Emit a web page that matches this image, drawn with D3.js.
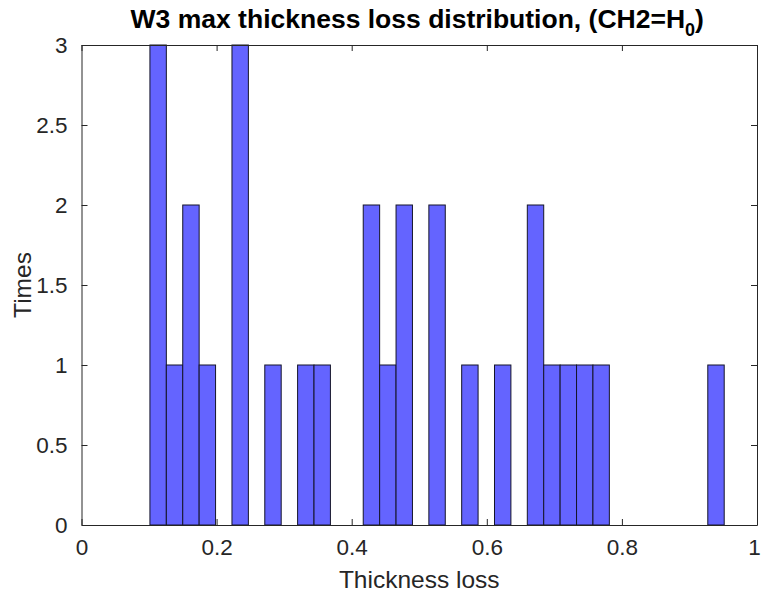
<!DOCTYPE html>
<html>
<head>
<meta charset="utf-8">
<script src="https://cdn.jsdelivr.net/npm/d3@7"></script>
<style>
  html, body { margin: 0; padding: 0; background: #ffffff; }
  svg { display: block; }
  text { font-family: "Liberation Sans", Arial, sans-serif; }
</style>
</head>
<body>
<svg id="chart" width="761" height="602"></svg>
<script>
// ---- data ----
const binStart = 0.1013;
const binWidth = 0.02429;
const counts = [3, 1, 2, 1, 0, 3, 0, 1, 0, 1, 1, 0, 0, 2, 1, 2, 0, 2, 0, 1, 0, 1, 0, 2, 1, 1, 1, 1, 0, 0, 0, 0, 0, 0, 1];
const xTicks = [0, 0.2, 0.4, 0.6, 0.8, 1];
const xTickLabels = ["0", "0.2", "0.4", "0.6", "0.8", "1"];
const yTicks = [0, 0.5, 1, 1.5, 2, 2.5, 3];
const yTickLabels = ["0", "0.5", "1", "1.5", "2", "2.5", "3"];
const xDomain = [0, 1];
const yDomain = [0, 3];

// ---- layout ----
const L = 81.5, R = 757, T = 45, B = 525;
const axisColor = "#262626";
const svg = d3.select("#chart");

const x = d3.scaleLinear().domain(xDomain).range([L, R]);
const y = d3.scaleLinear().domain(yDomain).range([B, T]);

const bins = counts.map((c, i) => ({ x0: binStart + i * binWidth, x1: binStart + (i + 1) * binWidth, c }));

svg.append("g").selectAll("rect")
  .data(bins.filter(d => d.c > 0))
  .join("rect")
  .attr("x", d => x(d.x0))
  .attr("y", d => y(d.c))
  .attr("width", d => x(d.x1) - x(d.x0))
  .attr("height", d => y(0) - y(d.c))
  .attr("fill", "#6464ff")
  .attr("stroke", "#15152a")
  .attr("stroke-width", 1);

// axes (MATLAB box style, inward ticks)
const tickLen = 6;
function styleAxis(g) {
  g.select(".domain").attr("stroke", axisColor).attr("stroke-width", 1);
  g.selectAll(".tick line").attr("stroke", axisColor).attr("stroke-width", 1);
  g.selectAll(".tick text").attr("fill", axisColor).style("font-size", "22.5px")
    .style("font-family", "'Liberation Sans', Arial, sans-serif");
}

const xAxis = svg.append("g").attr("transform", `translate(0,${B})`)
  .call(d3.axisBottom(x).tickValues(xTicks).tickFormat((d, i) => xTickLabels[i])
    .tickSizeInner(-tickLen).tickSizeOuter(0).tickPadding(14));
styleAxis(xAxis);
// keep the last label inside the window
xAxis.selectAll(".tick text").filter(d => d === 1).attr("dx", -3);

const xAxisTop = svg.append("g").attr("transform", `translate(0,${T})`)
  .call(d3.axisTop(x).tickValues(xTicks).tickFormat("").tickSizeInner(-tickLen).tickSizeOuter(0));
styleAxis(xAxisTop);

const yAxis = svg.append("g").attr("transform", `translate(${L},0)`)
  .call(d3.axisLeft(y).tickValues(yTicks).tickFormat((d, i) => yTickLabels[i])
    .tickSizeInner(-tickLen).tickSizeOuter(0).tickPadding(14));
styleAxis(yAxis);

const yAxisRight = svg.append("g").attr("transform", `translate(${R},0)`)
  .call(d3.axisRight(y).tickValues(yTicks).tickFormat("").tickSizeInner(-tickLen).tickSizeOuter(0));
styleAxis(yAxisRight);

// labels
svg.append("text")
  .attr("x", (L + R) / 2).attr("y", 588)
  .attr("text-anchor", "middle")
  .attr("fill", axisColor)
  .style("font-size", "24.5px")
  .text("Thickness loss");

svg.append("text")
  .attr("transform", `translate(31,${(T + B) / 2}) rotate(-90)`)
  .attr("text-anchor", "middle")
  .attr("fill", axisColor)
  .style("font-size", "24.5px")
  .text("Times");

const title = svg.append("text")
  .attr("x", (L + R) / 2 - 2).attr("y", 28)
  .attr("text-anchor", "middle")
  .attr("fill", "#000000")
  .style("font-size", "26.5px")
  .style("font-weight", "bold");
title.append("tspan").text("W3 max thickness loss distribution, (CH2=H");
title.append("tspan").attr("dy", 8).style("font-size", "18px").text("0");
title.append("tspan").attr("dy", -8).text(")");
</script>
</body>
</html>
